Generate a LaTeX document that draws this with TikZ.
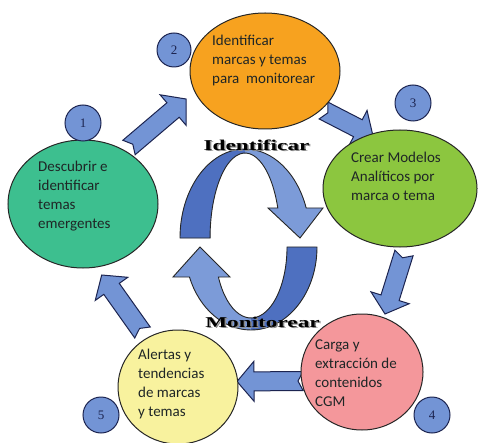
\documentclass[tikz,border=0pt]{standalone}
\usepackage{fontspec}
\setmainfont{Carlito}
\newfontfamily\tms{Liberation Serif}
\usetikzlibrary{calc,shapes.geometric}
\definecolor{cgreen}{HTML}{3DBF8F}
\definecolor{corange}{HTML}{F7A21F}
\definecolor{clime}{HTML}{8CC63F}
\definecolor{cpink}{HTML}{F4979B}
\definecolor{cyellow}{HTML}{F8F29E}
\definecolor{cblue}{HTML}{7394D5}
\definecolor{cdark}{HTML}{4E70C0}
\definecolor{clight}{HTML}{7C9BD8}
\definecolor{cnavy}{HTML}{1C2450}
\definecolor{ctxt}{HTML}{1F2626}
\newcommand\blockarr[3]{%
  \coordinate (#1b) at ($(#3)!17pt!(#2)$);
  \draw[barrow] ($(#2)!9.5pt!90:(#3)$) -- ($(#1b)!9.5pt!90:(#3)$) -- ($(#1b)!20pt!90:(#3)$)
    -- (#3) -- ($(#1b)!20pt!-90:(#3)$) -- ($(#1b)!9.5pt!-90:(#3)$)
    -- ($(#2)!9.5pt!-90:(#3)$) -- ($(#2)!5pt!(#3)$) -- cycle;}
\begin{document}
\begin{tikzpicture}[x=1pt,y=-1pt,
  ell/.style={ellipse, draw=black!85, line width=1pt, inner sep=0pt},
  lbl/.style={font=\fontsize{15}{19}\selectfont, align=left, inner sep=0pt, text=ctxt},
  barrow/.style={fill=cblue, draw=cnavy, line width=1pt, line join=miter},
  numc/.style={circle, minimum size=36pt, inner sep=0pt, fill=cblue, draw=cnavy, line width=1pt,
    font=\tms\fontsize{13}{13}\selectfont, text=cnavy},
  ttl/.style={font=\tms\bfseries\fontsize{15}{15}\selectfont, inner sep=0pt, anchor=base},
  curv/.style={draw=black!85, line width=0.9pt}]
\useasboundingbox (0,0) rectangle (478,443);
% block arrows
\coordinate (s12) at (129,147.5); \coordinate (e12) at (186,99);
\coordinate (s23) at (323.5,110.5); \coordinate (e23) at (373,136);
\coordinate (s34) at (404,253); \coordinate (e34) at (385,314);
\coordinate (s45) at (303,381); \coordinate (e45) at (237,381.5);
\coordinate (s51) at (142.5,332.5); \coordinate (e51) at (101.7,275);
\blockarr{a12}{s12}{e12}
\blockarr{a23}{s23}{e23}
\blockarr{a34}{s34}{e34}
\blockarr{a45}{s45}{e45}
\blockarr{a51}{s51}{e51}
% ellipses
\node[ell, fill=cgreen, minimum width=150pt, minimum height=128pt] (e1) at (83,204) {};
\node[ell, fill=corange, minimum width=150pt, minimum height=116pt] (e2) at (265,71) {};
\node[ell, fill=clime, minimum width=154pt, minimum height=117pt] (e3) at (400,188.5) {};
\node[ell, fill=cpink, minimum width=122pt, minimum height=116pt] (e4) at (362,372) {};
\node[ell, fill=cyellow, minimum width=120pt, minimum height=114pt] (e5) at (178,387) {};
% texts (base anchor = baseline of last line)
\node[lbl, anchor=base west] (t1) at (38,229) {Descubrir e\\identificar\\temas\\emergentes};
\node[lbl, anchor=base west] (t2) at (212,84) {Identificar\\marcas y temas\\para\ \ monitorear};
\node[lbl, anchor=base west] (t3) at (351,201) {Crear Modelos\\Analíticos por\\marca o tema};
\node[lbl, anchor=base west] (t4) at (315,406) {Carga y\\extracción de\\contenidos\\CGM};
\node[lbl, anchor=base west] (t5) at (138,416) {Alertas y\\tendencias\\de marcas\\y temas};
% number circles
\node[numc] (n1) at (83,123) {1};
\node[numc, minimum size=34pt] (n2) at (174,50) {2};
\node[numc] (n3) at (413,103) {3};
\node[numc] (n4) at (432,415) {4};
\node[numc] (n5) at (101,415) {5};
% central curved arrows
\fill[clight] (180,238) arc[start angle=180, end angle=19.7, x radius=65pt, y radius=89pt]
  -- (323,208) -- (300,238) -- (268,208) -- (277.8,208)
  arc[start angle=20.7, end angle=180, x radius=35pt, y radius=85pt] -- cycle;
\fill[cdark] (180,238) arc[start angle=180, end angle=90, x radius=65pt, y radius=89pt]
  -- (245,153) arc[start angle=90, end angle=180, x radius=35pt, y radius=85pt] -- cycle;
\draw[curv] (180,238) arc[start angle=180, end angle=19.7, x radius=65pt, y radius=89pt]
  -- (323,208) -- (300,238) -- (268,208) -- (277.8,208)
  arc[start angle=20.7, end angle=180, x radius=35pt, y radius=85pt] -- cycle;
\fill[clight] (317,247) arc[start angle=0, end angle=-158.8, x radius=66pt, y radius=83pt]
  -- (173,277) -- (200,247) -- (230,277) -- (218.4,277)
  arc[start angle=-155, end angle=0, x radius=36pt, y radius=71pt] -- cycle;
\fill[cdark] (317,247) arc[start angle=0, end angle=-90, x radius=66pt, y radius=83pt]
  -- (251,318) arc[start angle=-90, end angle=0, x radius=36pt, y radius=71pt] -- cycle;
\draw[curv] (317,247) arc[start angle=0, end angle=-158.8, x radius=66pt, y radius=83pt]
  -- (173,277) -- (200,247) -- (230,277) -- (218.4,277)
  arc[start angle=-155, end angle=0, x radius=36pt, y radius=71pt] -- cycle;
% titles
\node[ttl, text=black!45] (i0) at (258,152) {\scalebox{1.55}[1]{Identificar}};
\node[ttl] (i1) at (256.5,150.5) {\scalebox{1.55}[1]{Identificar}};
\node[ttl, text=black!45] (m0) at (264,328.5) {\scalebox{1.55}[1]{Monitorear}};
\node[ttl] (m1) at (262.5,327) {\scalebox{1.55}[1]{Monitorear}};
\end{tikzpicture}
\end{document}
